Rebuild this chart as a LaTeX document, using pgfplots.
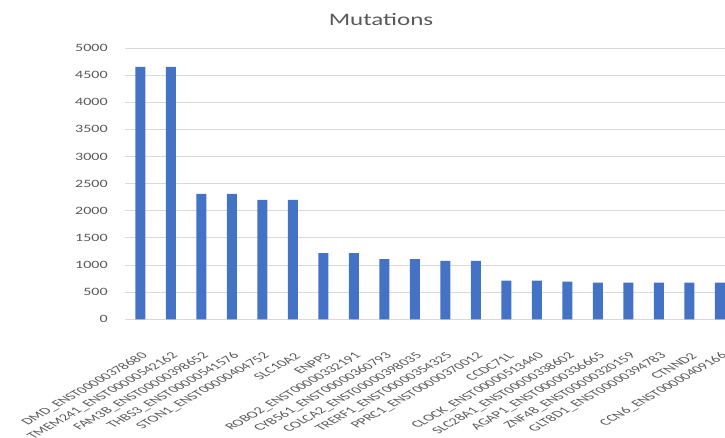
\documentclass[border=0pt]{standalone}
\usepackage{fontspec}
\setmainfont{Carlito}
\usepackage{pgfplots}
\pgfplotsset{compat=1.18}
\definecolor{barblue}{HTML}{4472C4}
\definecolor{txtgray}{HTML}{595959}
\definecolor{gridgray}{HTML}{D9D9D9}
\begin{document}
\begin{tikzpicture}
\path[use as bounding box] (0,0) rectangle (725pt,437pt);
\begin{axis}[
  at={(125pt,117.7pt)}, anchor=south west,
  scale only axis, width=600pt, height=271.3pt,
  xmin=-0.5, xmax=19.17, ymin=0, ymax=5000,
  ytick={0,500,...,5000},
  xtick={0,...,19},
  xticklabels={
    DMD\_ENST00000378680, TMEM241\_ENST00000542162, FAM3B\_ENST00000398652,
    THBS3\_ENST00000541576, STON1\_ENST00000404752, SLC10A2, ENPP3,
    ROBO2\_ENST00000332191, CYB561\_ENST00000360793, COLCA2\_ENST00000398035,
    TRERF1\_ENST00000354325, PPRC1\_ENST00000370012, CCDC71L,
    CLOCK\_ENST00000513440, SLC28A1\_ENST00000338602, AGAP1\_ENST00000336665,
    ZNF48\_ENST00000320159, GLT8D1\_ENST00000394783, CTNND2,
    CCN6\_ENST00000409166},
  axis line style={draw=none},
  tick style={draw=none},
  ymajorgrids,
  major grid style={gridgray, line width=1pt},
  /pgf/number format/assume math mode=true,
  /pgf/number format/1000 sep={},
  yticklabel style={font=\fontsize{11.2}{13}\selectfont, text=txtgray,
    anchor=east, inner sep=0pt, xshift=-17pt, xscale=1.43},
  % labels rising at 45 degrees, then widened horizontally
  xticklabel style={font=\fontsize{9.5}{12}\selectfont, text=txtgray,
    anchor=east, inner sep=0pt, xshift=5pt, yshift=-31pt,
    cm={1.237,0.7071,-1.237,0.7071,(0pt,0pt)}},
  ybar, bar width=10pt,
]
\addplot[fill=barblue, draw=none] coordinates {
  (0,4650) (1,4650) (2,2310) (3,2310) (4,2200) (5,2200) (6,1220) (7,1220)
  (8,1110) (9,1110) (10,1076) (11,1076) (12,715) (13,715) (14,696)
  (15,678) (16,678) (17,678) (18,678) (19,678)};
\end{axis}
\node[font=\fontsize{17.5}{20}\selectfont, text=txtgray, xscale=1.43]
  at (381pt,417pt) {Mutations};
\end{tikzpicture}
\end{document}
